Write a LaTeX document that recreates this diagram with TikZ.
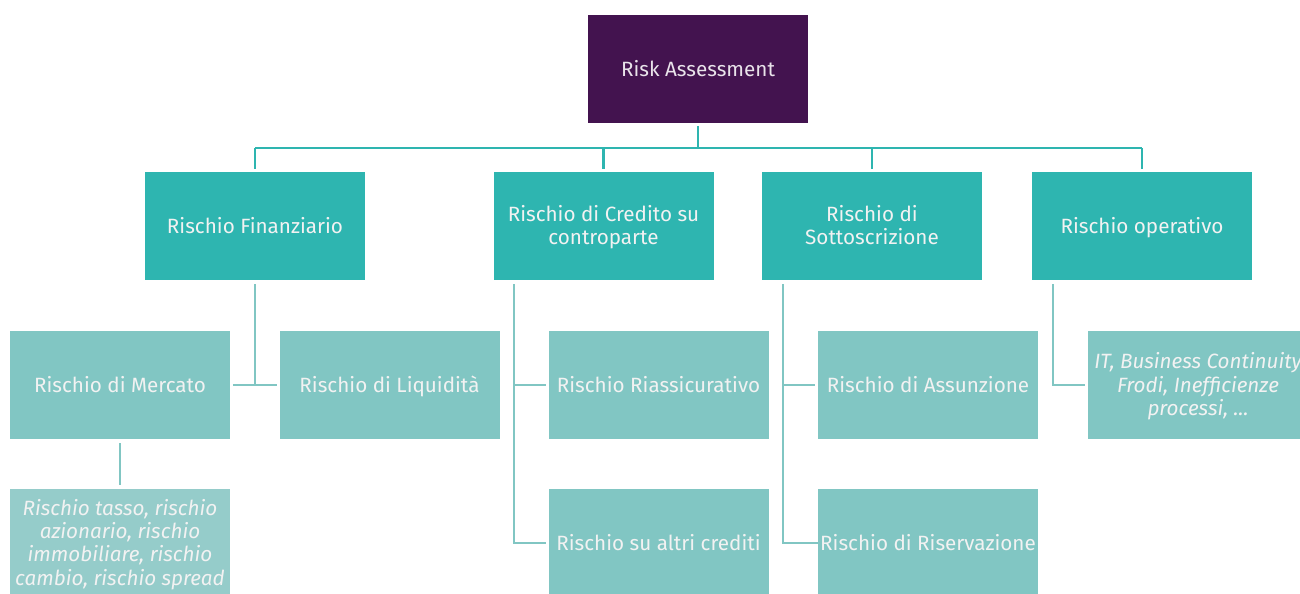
\documentclass[tikz,border=0pt]{standalone}
\usepackage{fontspec}
\setmainfont{Fira Sans}
\begin{document}
\begin{tikzpicture}[x=0.75pt,y=-0.75pt,
  box/.style={rectangle,inner sep=0pt,minimum width=165pt,minimum height=81pt,align=center,text=white!95!black,font=\fontsize{15.5}{17.5}\selectfont,text height=10.7pt,text depth=0pt},
  two/.style={text height=28.2pt},
  three/.style={text height=45.7pt},
  four/.style={text height=63.2pt},
  topbox/.style={box,fill=topc,text=white!88!topc},
  midbox/.style={box,fill=midc},
  lowbox/.style={box,fill=lowc},
  subbox/.style={box,fill=subc,font=\fontsize{15.5}{17.5}\selectfont\itshape},
  l1/.style={draw=midc,line width=2.2pt},
  l2/.style={draw=lowc,line width=1.8pt}]
\definecolor{topc}{HTML}{43134F}
\definecolor{midc}{HTML}{2EB5B0}
\definecolor{lowc}{HTML}{81C6C3}
\definecolor{subc}{HTML}{95CCCA}
\clip (0,0) rectangle (1300,593);
\useasboundingbox (0,0) rectangle (1300,593);
% nodes
\node[topbox] (top) at (698,69) {Risk Assessment};
\node[midbox] (f1) at (255,226) {Rischio Finanziario};
\node[midbox,two] (f2) at (603.5,226) {Rischio di Credito su\\contropar\-te};
\node[midbox,two] (f3) at (872,226) {Rischio di\\Sottoscrizione};
\node[midbox] (f4) at (1142,226) {Rischio operativo};
\node[lowbox] (m) at (120,385) {Rischio di Mercato};
\node[lowbox] (liq) at (389.5,385) {Rischio di Liquidità};
\node[subbox,four] (msub) at (120,543) {Rischio tasso, rischio\\azionario, rischio\\immobiliare, rischio\\cambio, rischio spread};
\node[lowbox] (riass) at (658.5,385) {Rischio Riassicurativo};
\node[lowbox] (altri) at (658.5,543) {Rischio su altri crediti};
\node[lowbox] (ass) at (928,385) {Rischio di Assunzione};
\node[lowbox] (ris) at (928,543) {Rischio di Riservazione};
\node[lowbox,three] (op) at (1198,385) {\itshape IT, Business Continuity\\\itshape Frodi, Inefficienze\\\itshape processi, ...};
% level 1 connectors
\coordinate (bar) at (698,148);
\draw[l1,shorten <=2pt] (top.south) -- (bar);
\draw[l1] (f1.north |- bar) -- (f4.north |- bar);
\foreach \n in {f1,f2,f3,f4}{\draw[l1,shorten >=2pt] (\n.north |- bar) -- (\n.north);}
% Finanziario
\draw[l2,shorten <=3pt] (f1.south) -- (f1.south |- m.east);
\draw[l2,shorten <=2pt,shorten >=2pt] (m.east) -- (liq.west);
\draw[l2,shorten <=3pt,shorten >=3pt] (m.south) -- (msub.north);
% Credito
\coordinate (c2) at ([xshift=21*0.75pt,yshift=-3pt]f2.south west);
\draw[l2,shorten >=2pt] (c2) -- (c2 |- altri.west) -- (altri.west);
\draw[l2,shorten >=2pt] (c2 |- riass.west) -- (riass.west);
% Sottoscrizione
\coordinate (c3) at ([xshift=21*0.75pt,yshift=-3pt]f3.south west);
\draw[l2,shorten >=0pt] (c3) -- (c3 |- ris.west) -- (ris.west);
\draw[l2,shorten >=2pt] (c3 |- ass.west) -- (ass.west);
% Operativo
\coordinate (c4) at ([xshift=21*0.75pt,yshift=-3pt]f4.south west);
\draw[l2,shorten >=2pt] (c4) -- (c4 |- op.west) -- (op.west);
\end{tikzpicture}
\end{document}
